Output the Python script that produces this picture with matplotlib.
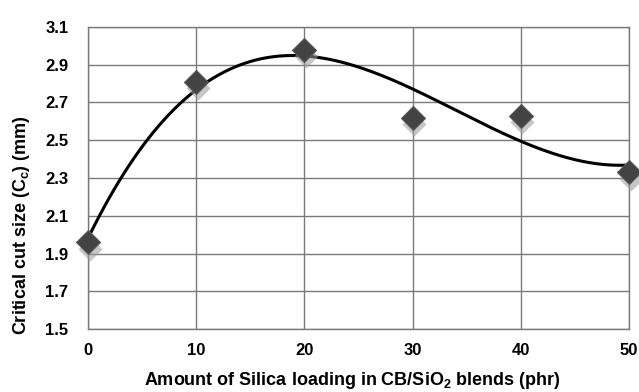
import numpy as np
import matplotlib
matplotlib.use("Agg")
import matplotlib.pyplot as plt

# data
silica_phr = [0, 10, 20, 30, 40, 50]
cut_size = [1.96, 2.81, 2.98, 2.62, 2.63, 2.33]
x_ticks = [0, 10, 20, 30, 40, 50]
y_ticks = [1.5, 1.7, 1.9, 2.1, 2.3, 2.5, 2.7, 2.9, 3.1]

plt.rcParams['font.family'] = ['Liberation Sans', 'DejaVu Sans']
plt.rcParams['mathtext.fontset'] = 'custom'
plt.rcParams['mathtext.rm'] = 'Liberation Sans'
plt.rcParams['mathtext.bf'] = 'Liberation Sans:bold'

fig = plt.figure(figsize=(6.39, 3.92), dpi=100)
ax = fig.add_axes([88 / 639, 1 - 329 / 392, (629 - 88) / 639, (329 - 27) / 392])

# polynomial trendline (like a spreadsheet trendline)
coef = np.polyfit(silica_phr, cut_size, 3)
xs = np.linspace(0, 50, 300)
ax.plot(xs, np.polyval(coef, xs), color='black', lw=2.2, zorder=3)

# fuzzy shadow then marker
ax.scatter(np.array(silica_phr) + 0.15, np.array(cut_size) - 0.035, marker='D', s=150,
           color='#9a9a9a', alpha=0.55, zorder=4, clip_on=False, linewidths=0)
ax.scatter(silica_phr, cut_size, marker='D', s=150, color='#434343',
           edgecolors='#5a5a5a', linewidths=0.8, zorder=5, clip_on=False)

ax.set_xlim(0, 50)
ax.set_ylim(1.5, 3.1)
ax.set_xticks(x_ticks)
ax.set_yticks(y_ticks)
ax.set_xticklabels([str(v) for v in x_ticks], fontsize=12, fontweight='bold')
ax.set_yticklabels(['%.1f' % v for v in y_ticks], fontsize=12, fontweight='bold')
ax.tick_params(axis='y', length=0, pad=14)
ax.tick_params(axis='x', length=0, pad=10)
ax.grid(True, color='#7a7a7a', lw=1)
ax.set_axisbelow(True)
for s in ax.spines.values():
    s.set_color('#7a7a7a')
    s.set_linewidth(1)

ax.set_xlabel(r'Amount of Silica loading in CB/SiO$_{\mathbf{2}}$ blends (phr)',
              fontsize=13, fontweight='bold', va='center')
ax.xaxis.set_label_coords(0.488, -0.172)
ax.set_ylabel(r'Critical cut size (C$_{\mathbf{c}}$) (mm)',
              fontsize=13, fontweight='bold', va='center')
ax.yaxis.set_label_coords(-0.122, 0.344)

fig.savefig('out.png', dpi=100)
